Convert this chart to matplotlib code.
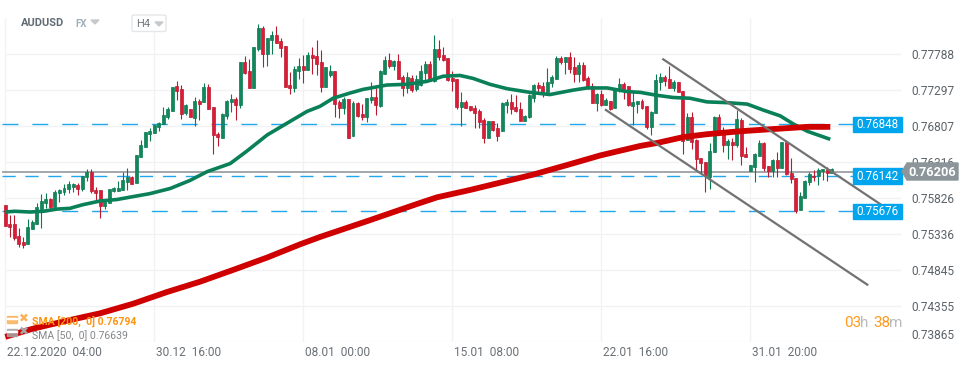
import numpy as np
from matplotlib import pyplot as plt
from matplotlib.patches import FancyBboxPatch, Polygon, Rectangle
from matplotlib.transforms import ScaledTranslation

plt.rcParams['font.family'] = ['Roboto', 'DejaVu Sans']

# AUDUSD H4 candles, prices in pips (0.7620 -> 7620)
opens = [7574,7548,7548,7531,7523,7520,7541,7548,7568,7576,7582,7571,7590,7591,7595,7598,7601,7595,7612,7618,7594,7594,7572,7576,7593,7593,7594,7605,7612,7603,
         7639,7653,7670,7672,7680,7684,7693,7702,7736,7732,7699,7704,7692,7715,7714,7734,7707,7670,7665,7695,7714,7718,7710,7768,7756,7733,7786,7815,7779,7798,
         7805,7797,7790,7737,7733,7756,7763,7757,7778,7777,7768,7734,7751,7756,7714,7706,7718,7668,7713,7698,7693,7717,7721,7708,7752,7771,7763,7770,7748,7733,
         7747,7732,7737,7753,7766,7742,7786,7778,7774,7747,7745,7707,7714,7708,7706,7702,7689,7665,7688,7678,7674,7710,7714,7707,7704,7688,7693,7719,7737,7736,
         7727,7740,7745,7774,7768,7775,7762,7752,7764,7747,7736,7713,7725,7710,7715,7706,7730,7738,7736,7708,7711,7715,7708,7680,7699,7741,7748,7745,7733,7741,
         7729,7662,7693,7662,7638,7632,7612,7646,7693,7674,7655,7659,7655,7689,7643,7620,7625,7640,7658,7627,7620,7635,7624,7659,7617,7610,7567,7583,7605,7613,
         7613,7620,7623,7617]
highs = [7574,7560,7560,7542,7530,7554,7553,7576,7588,7590,7583,7594,7595,7602,7606,7603,7603,7613,7623,7623,7598,7594,7580,7595,7598,7606,7618,7624,7613,7642,
         7662,7673,7678,7684,7687,7707,7707,7734,7742,7737,7711,7704,7721,7718,7740,7738,7707,7673,7699,7717,7725,7721,7768,7777,7772,7789,7820,7817,7801,7811,
         7817,7801,7790,7755,7763,7774,7778,7782,7789,7798,7785,7762,7764,7756,7717,7721,7718,7715,7714,7711,7719,7741,7733,7757,7777,7781,7771,7779,7751,7755,
         7751,7751,7764,7770,7770,7805,7798,7789,7774,7756,7745,7727,7717,7708,7710,7704,7692,7688,7688,7685,7714,7718,7725,7723,7714,7696,7725,7738,7741,7741,
         7760,7751,7777,7777,7775,7782,7775,7768,7768,7749,7740,7726,7730,7719,7715,7733,7747,7741,7736,7727,7715,7718,7708,7702,7752,7753,7751,7763,7744,7741,
         7729,7699,7700,7663,7638,7632,7658,7695,7698,7680,7663,7665,7703,7692,7653,7628,7644,7662,7659,7627,7636,7646,7659,7662,7638,7610,7591,7608,7618,7621,
         7624,7623,7625,7624]
lows = [7545,7530,7526,7516,7515,7520,7541,7548,7542,7569,7567,7571,7578,7587,7590,7591,7587,7593,7606,7590,7578,7556,7568,7576,7591,7593,7594,7594,7602,7603,
        7639,7653,7661,7672,7674,7684,7691,7702,7717,7691,7696,7693,7681,7689,7714,7704,7643,7654,7665,7691,7700,7689,7706,7752,7733,7733,7783,7762,7763,7779,
        7794,7775,7734,7725,7727,7745,7740,7757,7752,7751,7727,7734,7748,7693,7692,7698,7665,7668,7693,7689,7687,7713,7696,7707,7752,7760,7757,7745,7722,7726,
        7727,7729,7736,7741,7742,7741,7771,7770,7742,7729,7704,7681,7706,7702,7678,7678,7658,7665,7674,7661,7674,7699,7698,7700,7688,7688,7692,7714,7725,7721,
        7727,7734,7745,7766,7752,7753,7741,7741,7742,7732,7713,7702,7708,7710,7703,7706,7727,7718,7708,7683,7699,7704,7677,7669,7699,7730,7736,7733,7729,7727,
        7643,7662,7650,7621,7617,7591,7595,7646,7674,7646,7636,7635,7653,7628,7639,7620,7605,7640,7620,7612,7612,7612,7624,7614,7603,7563,7567,7583,7601,7606,
        7601,7608,7606,7617]
closes = [7545,7544,7529,7520,7519,7544,7550,7571,7579,7582,7571,7591,7594,7597,7602,7602,7595,7613,7618,7593,7590,7572,7579,7595,7597,7597,7608,7612,7602,7642,
          7655,7673,7674,7683,7685,7696,7704,7734,7729,7698,7710,7693,7715,7711,7734,7704,7669,7666,7698,7715,7718,7710,7768,7753,7733,7789,7815,7779,7801,7805,
          7794,7787,7734,7733,7759,7763,7757,7778,7774,7766,7734,7762,7756,7711,7706,7718,7665,7713,7695,7693,7719,7721,7710,7756,7771,7763,7770,7745,7733,7748,
          7730,7745,7756,7766,7742,7786,7775,7771,7744,7742,7707,7714,7706,7703,7699,7687,7665,7688,7676,7668,7713,7714,7704,7702,7688,7695,7723,7737,7733,7727,
          7741,7748,7774,7768,7775,7759,7752,7764,7744,7733,7713,7725,7710,7717,7704,7733,7738,7732,7710,7714,7715,7706,7680,7700,7744,7748,7742,7733,7741,7727,
          7661,7693,7659,7636,7631,7613,7647,7693,7674,7655,7661,7655,7691,7640,7639,7628,7643,7658,7624,7620,7635,7624,7659,7616,7609,7565,7586,7606,7616,7612,
          7621,7623,7617,7623]

sma50_idx = [0,2.1,5.5,8.4,11.5,14.3,17.2,21,24.7,28.3,32,36.5,40.9,44.7,49.8,53.5,58,62.4,66.8,69.7,72.6,76.3,79.2,84.5,89,93.4,97,100.7,103.6,107.3,
             111.1,116.2,120.6,125.7,128.8,133.3,137.7,140.6,144.3,147.9,151.6,155.4,159.8,164.3,167.8,171.6,174.5,177.6,182.7]
sma50 = [7564,7565,7564,7565,7568,7569,7574,7579,7581,7585,7589,7596,7607,7619,7630,7647,7669,7685,7701,7708,7719,7726,7731,7737,7738,7742,7749,7750,7746,7738,
         7732,7727,7724,7730,7733,7733,7728,7727,7723,7720,7719,7714,7713,7711,7703,7695,7684,7674,7663]
sma200_idx = [0,6.1,13.7,21,28.3,35.8,43.1,50.4,58,65.3,69.7,80.8,91.2,95.6,102.9,109.6,116.9,124.4,131.7,140.6,144.3,150.1,155.4,162.7,170,177.6,182.7]
sma200 = [7394,7405,7416,7426,7439,7455,7469,7485,7502,7520,7530,7553,7575,7584,7594,7604,7615,7628,7641,7654,7658,7666,7670,7674,7677,7680,7680]

# trend channel drawn on the chart (candle index, pips)
upper_idx = [145.7,193.7]
upper_val = [7772,7575]
lower_idx = [133,190.9]
lower_val = [7703,7465]

y_ticks = [0.77788,0.77297,0.76807,0.76316,0.75826,0.75336,0.74845,0.74355,0.73865]
x_ticks = [0,33,66,99,132,165]
x_labels = ['22.12.2020  04:00','30.12  16:00','08.01  00:00','15.01  08:00','22.01  16:00','31.01  20:00']

level_prices = [7684,7613,7565]
level_labels = ['0.76848','0.76142','0.75676']
last_line = 7619

GREEN = '#12875c'
GREEN_DK = '#0b7a50'
RED = '#dc1c36'
RED_DK = '#b91a30'
BLUE = '#1fa8ee'
TAG = '#00a5ee'
W, H = 970, 368

def fx(x):
    return x / W
def fy(y):
    return 1 - y / H

fig = plt.figure(figsize=(9.7, 3.68), dpi=100)
ax = fig.add_axes([fx(2), fy(342.3), 901 / W, 324.3 / H])
for s in ax.spines.values():
    s.set_visible(False)
ax.set_xlim(-0.73, 198.8)
ax.set_ylim(0.73865, 0.78283)

o = np.array(opens) / 10000
h = np.array(highs) / 10000
l = np.array(lows) / 10000
c = np.array(closes) / 10000
idx = np.arange(len(o))
up = c >= o

# grid
ax.hlines(y_ticks, -0.07, 198.4, color='#f1f2f3', lw=1, zorder=1)
ax.vlines(x_ticks, 0.73865, 0.78283, color='#f1f2f3', lw=1, zorder=1)

# levels and last price
ax.axhline(last_line / 10000, color='#8a9094', lw=1.1, zorder=2)
ax.plot([-0.73, 187.7], [level_prices[0] / 10000] * 2, color=BLUE, lw=1, dashes=(11.5, 10), zorder=2)
ax.plot([-0.73, 187.7], [level_prices[1] / 10000] * 2, color=BLUE, lw=1, dashes=(9.5, 7), zorder=2)
ax.plot([-0.73, 187.7], [level_prices[2] / 10000] * 2, color=BLUE, lw=1, dashes=(11.5, 10), zorder=2)

# candles
ax.vlines(idx[up], l[up], h[up], color=GREEN_DK, lw=0.8, zorder=3)
ax.vlines(idx[~up], l[~up], h[~up], color=RED_DK, lw=0.8, zorder=3)
ax.bar(idx[up], (c - o)[up], bottom=o[up], width=0.66, color=GREEN, edgecolor=GREEN_DK, lw=0.5, zorder=4)
ax.bar(idx[~up], (o - c)[~up], bottom=c[~up], width=0.66, color=RED, edgecolor=RED_DK, lw=0.5, zorder=4)

# moving averages
ax.plot(sma50_idx, np.array(sma50) / 10000, color='#0a8058', lw=2.6, zorder=5, solid_capstyle='butt')
ax.plot(sma200_idx, np.array(sma200) / 10000, color='#cf0000', lw=4.2, zorder=6, solid_capstyle='butt')

# channel
ax.plot(upper_idx, np.array(upper_val) / 10000, color='#727272', lw=1.6, zorder=7)
ax.plot(lower_idx, np.array(lower_val) / 10000, color='#727272', lw=1.6, zorder=7)

# axis labels
ax.yaxis.tick_right()
ax.set_yticks(y_ticks)
ax.set_yticklabels(['%.5f' % t for t in y_ticks])
ax.set_xticks(x_ticks)
ax.set_xticklabels(x_labels, ha='left')
ax.tick_params(axis='y', length=0, pad=5.8, labelsize=8.6, labelcolor='#5c6369')
ax.tick_params(axis='x', length=0, pad=3, labelsize=8.6, labelcolor='#6a7076')
ax.get_yticklabels()[-1].set_verticalalignment('bottom')
for lab in ax.get_xticklabels():
    lab.set_transform(lab.get_transform() + ScaledTranslation(1.5 / 72, 0, fig.dpi_scale_trans))

# header
fig.text(fx(21), fy(23), 'AUDUSD', fontsize=8, weight='bold', color='#5f6a72', va='center')
fig.text(fx(75), fy(24), 'FX', fontsize=7, weight='bold', color='#9fb0ba', va='center')
fig.patches.append(Polygon([(fx(91), fy(20)), (fx(99), fy(20)), (fx(95), fy(24))], transform=fig.transFigure, color='#c6c9cc'))
fig.patches.append(FancyBboxPatch((fx(132), fy(31.5)), 34 / W, 16.5 / H, boxstyle='round,pad=0,rounding_size=0.003',
                                  transform=fig.transFigure, fc='white', ec='#e4e6e8', lw=1, zorder=2))
fig.text(fx(136.5), fy(23.7), 'H4', fontsize=8, color='#70787e', va='center', zorder=3)
fig.patches.append(Polygon([(fx(155), fy(22)), (fx(163), fy(22)), (fx(159), fy(26))], transform=fig.transFigure, color='#c6c9cc', zorder=3))

# indicator legend
for top, col in [(316, '#f9b35c'), (329, '#a6a6a6')]:
    fig.patches.append(Rectangle((fx(7), fy(top + 7)), 10 / W, 7 / H, transform=fig.transFigure, color=col, alpha=0.85, zorder=2))
    fig.patches.append(Rectangle((fx(7), fy(top + 3)), 10 / W, 1 / H, transform=fig.transFigure, color='white', zorder=2.5))
    fig.text(fx(24), fy(top + 3), '\u2716', fontsize=8.5, color=col, ha='center', va='center', family=['DejaVu Sans'], zorder=3)
fig.text(fx(32), fy(321.7), 'SMA [200,  0] 0.76794', fontsize=7.6, weight='bold', color='#ff9412', va='center', zorder=4)
fig.text(fx(32), fy(335.6), 'SMA [50,  0] 0.76639', fontsize=7.6, color='#83878a', va='center', zorder=4)

# price tags on the right
for lab, (t, b) in zip(level_labels, [(117, 132), (168, 184), (204, 219)]):
    fig.patches.append(Rectangle((fx(853), fy(b)), 49 / W, (b - t) / H, transform=fig.transFigure, color=TAG, zorder=2))
    fig.text(fx(877.5), fy((t + b) / 2), lab, fontsize=8.4, color='white', ha='center', va='center', zorder=3)
fig.patches.append(Polygon([(fx(902), fy(171.5)), (fx(907), fy(163)), (fx(958), fy(163)), (fx(958), fy(180)), (fx(907), fy(180))],
                           transform=fig.transFigure, color='#8c9599', zorder=2))
fig.text(fx(932.5), fy(172), '0.76206', fontsize=9.2, weight='bold', color='white', ha='center', va='center', zorder=3)

# candle countdown
fig.text(fx(844), fy(323), '03', fontsize=11, color='#ff9a1f', va='center')
fig.text(fx(860.5), fy(323), 'h', fontsize=11, color='#b8bcbf', va='center')
fig.text(fx(873), fy(323), '38', fontsize=11, color='#ff9a1f', va='center')
fig.text(fx(889.5), fy(323), 'm', fontsize=11, color='#b8bcbf', va='center')

fig.savefig('out.png', dpi=100)
